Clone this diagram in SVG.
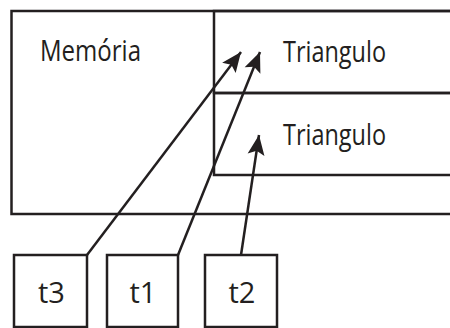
<svg xmlns="http://www.w3.org/2000/svg" width="450" height="328" viewBox="0 0 450 328">
  <style>
    .box { fill: none; stroke: #231f20; stroke-width: 2.5; }
    .lbl { font-family: "Open Sans", "Liberation Sans", sans-serif; font-size: 29px; fill: #231f20; }
    .ref { fill: none; stroke: #231f20; stroke-width: 2.5; marker-end: url(#head); }
  </style>
  <defs>
    <marker id="head" markerUnits="userSpaceOnUse" markerWidth="24" markerHeight="20" viewBox="-20 -10 22 20" refX="0" refY="0" orient="auto">
      <path d="M0,0 L-20,-8.5 L-16,0 L-20,8.5 Z" fill="#231f20"/>
    </marker>
  </defs>

  <g id="memoria">
    <path class="box" d="M450,11 H11.5 V214 H450"/>
    <text class="lbl" x="40" y="61" textLength="101" lengthAdjust="spacingAndGlyphs">Memória</text>
  </g>

  <g id="triangulo1">
    <path class="box" d="M450,11 H214 V93 H450"/>
    <text class="lbl" x="283" y="62" textLength="103" lengthAdjust="spacingAndGlyphs">Triangulo</text>
  </g>

  <g id="triangulo2">
    <path class="box" d="M450,93 H214 V175 H450"/>
    <text class="lbl" x="283" y="145" textLength="103" lengthAdjust="spacingAndGlyphs">Triangulo</text>
  </g>

  <g id="t3">
    <rect class="box" x="14" y="255" width="73" height="72"/>
    <text class="lbl" x="51.5" y="303" text-anchor="middle">t3</text>
  </g>

  <g id="t1">
    <rect class="box" x="107" y="255" width="71" height="72"/>
    <text class="lbl" x="143" y="303" text-anchor="middle">t1</text>
  </g>

  <g id="t2">
    <rect class="box" x="205" y="255" width="72" height="72"/>
    <text class="lbl" x="242" y="303" text-anchor="middle">t2</text>
  </g>

  <g id="connectors">
    <line class="ref" x1="87" y1="255" x2="241" y2="52"/>
    <line class="ref" x1="178" y1="255" x2="260" y2="52"/>
    <line class="ref" x1="241" y1="255" x2="259" y2="135"/>
  </g>
</svg>
